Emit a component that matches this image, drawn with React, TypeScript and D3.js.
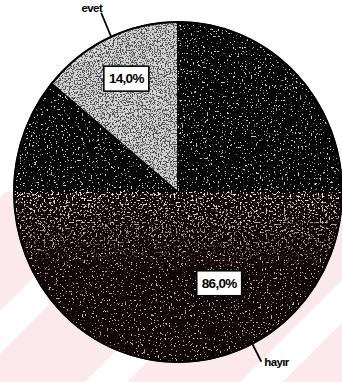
import React from "react";
import * as d3 from "d3";

const categories = ["evet", "hayır"];
const values = [14.0, 86.0];
const valueLabels = ["14,0%", "86,0%"];

const W = 342;
const H = 382;
const cx = 178;
const cy = 192;
const R = 164;
const ySq = 170 / 164;
const fills = ["#d4d4d4", "#040404"];
const labelRad = [0.74, 0.59];

export default function App() {
  const pie = d3
    .pie<number>()
    .sort(null)
    .startAngle(-(values[0] / 100) * 2 * Math.PI)
    .endAngle(2 * Math.PI - (values[0] / 100) * 2 * Math.PI);
  const arcs = pie(values);
  const arc = d3.arc<d3.PieArcDatum<number>>().innerRadius(0).outerRadius(R);
  const pt = (a: number, r: number) => [cx + Math.sin(a) * r, cy - Math.cos(a) * r * ySq];

  const mids = arcs.map((a) => (a.startAngle + a.endAngle) / 2);
  const e0 = pt(mids[0] + 0.02, R);
  const h0 = pt(mids[1] - 0.03, R);

  return (
    <svg width={W} height={H} style={{ position: "absolute", left: 0, top: 0, display: "block" }}>
      <defs>
        <filter id="nW" x="0" y="0" width="100%" height="100%">
          <feTurbulence type="fractalNoise" baseFrequency="0.55" numOctaves="3" seed="4" />
          <feColorMatrix type="matrix" values="0 0 0 0 1  0 0 0 0 1  0 0 0 0 1  16 0 0 0 -10.4" />
        </filter>
        <filter id="nP" x="0" y="0" width="100%" height="100%">
          <feTurbulence type="fractalNoise" baseFrequency="0.5" numOctaves="3" seed="11" />
          <feColorMatrix type="matrix" values="0 0 0 0 1  0 0 0 0 0.85  0 0 0 0 0.88  14 0 0 0 -8.4" />
        </filter>
        <filter id="nD" x="0" y="0" width="100%" height="100%">
          <feTurbulence type="fractalNoise" baseFrequency="0.75" numOctaves="2" seed="9" />
          <feColorMatrix type="matrix" values="0 0 0 0 0.05  0 0 0 0 0.05  0 0 0 0 0.05  12 0 0 0 -6.0" />
        </filter>
        <linearGradient id="pinkFade" x1="0" y1="0" x2="0" y2="1">
          <stop offset="0" stopColor="#fff" stopOpacity="1" />
          <stop offset="0.5" stopColor="#fff" stopOpacity="0.6" />
          <stop offset="1" stopColor="#fff" stopOpacity="0" />
        </linearGradient>
        <mask id="pinkMask">
          <rect x={0} y={cy} width={W} height={80} fill="url(#pinkFade)" />
        </mask>
        {arcs.map((a, i) => (
          <clipPath id={"cl" + i} key={i}>
            <path d={arc(a) || ""} transform={`translate(${cx},${cy}) scale(1,${ySq})`} />
          </clipPath>
        ))}
        <pattern id="stripes" patternUnits="userSpaceOnUse" width="110" height="110" patternTransform="rotate(45)">
          <rect x="0" y="0" width="110" height="110" fill="#fce9ed" />
          <rect x="0" y="0" width="30" height="110" fill="#ffffff" />
        </pattern>
      </defs>
      <rect x={0} y={0} width={W} height={H} fill="#fff" />
      <rect x={0} y={cy} width={W} height={H - cy} fill="url(#stripes)" />
      {arcs.map((a, i) => (
        <g key={categories[i]}>
          <path
            d={arc(a) || ""}
            transform={`translate(${cx},${cy}) scale(1,${ySq})`}
            fill={fills[i]}
            stroke="#000"
            strokeWidth={1.5}
          />
          <g clipPath={`url(#cl${i})`}>
            <rect x={0} y={0} width={W} height={H} filter={i === 0 ? "url(#nD)" : "url(#nW)"} opacity={i === 0 ? 0.9 : 0.8} />
          </g>
        </g>
      ))}
      <g clipPath="url(#cl1)">
        <rect x={0} y={cy} width={W} height={H - cy} fill="#5a0f1e" opacity={0.14} />
        <g mask="url(#pinkMask)">
          <rect x={0} y={cy} width={W} height={80} filter="url(#nP)" />
        </g>
      </g>
      <ellipse cx={cx} cy={cy} rx={R} ry={R * ySq} fill="none" stroke="#000" strokeWidth={2} />
      {arcs.map((a, i) => {
        const [x, y] = pt((a.startAngle + a.endAngle) / 2, R * labelRad[i]);
        return (
          <g key={"lb" + i}>
            <rect x={x - 22.5} y={y - 12} width={45} height={25} fill="#fff" stroke="#000" strokeWidth={1.6} />
            <text
              x={x}
              y={y + 5}
              textAnchor="middle"
              fontFamily="Liberation Sans, Arial, sans-serif"
              fontWeight="bold"
              fontSize={13.5}
              letterSpacing={-0.7}
              fill="#000"
            >
              {valueLabels[i]}
            </text>
          </g>
        );
      })}
      <line x1={e0[0]} y1={e0[1]} x2={e0[0] - 10} y2={e0[1] - 24} stroke="#000" strokeWidth={1.8} />
      <text
        x={e0[0] - 9}
        y={e0[1] - 25}
        textAnchor="end"
        fontFamily="Liberation Sans, Arial, sans-serif"
        fontWeight="bold"
        fontSize={11.5}
        letterSpacing={-0.6}
      >
        {categories[0]}
      </text>
      <line x1={h0[0]} y1={h0[1]} x2={h0[0] + 9} y2={h0[1] + 18} stroke="#000" strokeWidth={1.8} />
      <text
        x={h0[0] + 12}
        y={h0[1] + 22}
        textAnchor="start"
        fontFamily="Liberation Sans, Arial, sans-serif"
        fontWeight="bold"
        fontSize={11.5}
        letterSpacing={-0.6}
      >
        {categories[1]}
      </text>
    </svg>
  );
}
